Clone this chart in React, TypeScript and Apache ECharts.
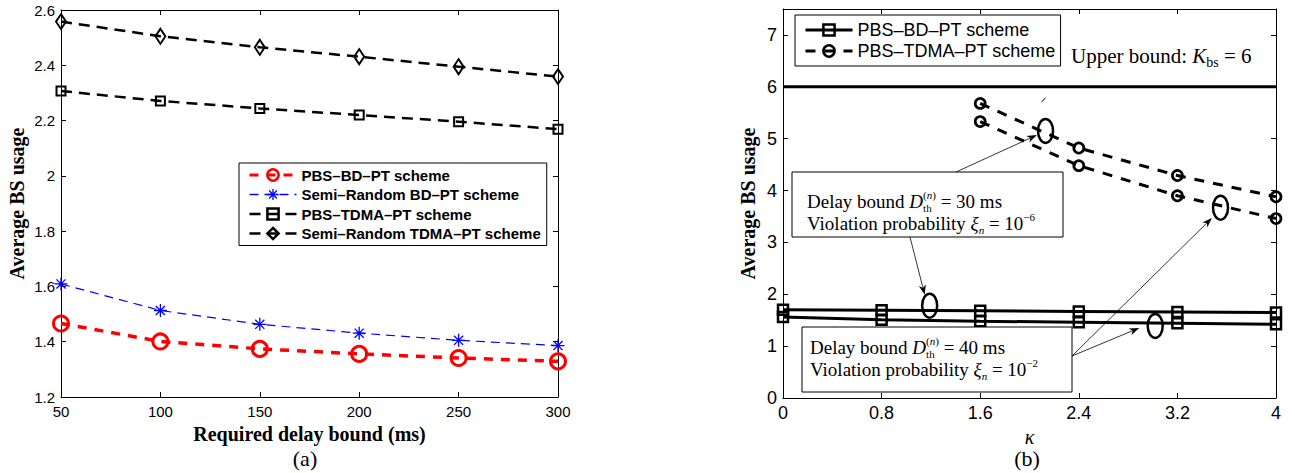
import React, { useEffect, useRef } from "react";
import * as echarts from "echarts";

// ---------- data: panel (a) ----------
const delayBound = [50, 100, 150, 200, 250, 300];
const pbsBdPt = [1.466, 1.401, 1.374, 1.356, 1.341, 1.329];
const semiBdPt = [1.609, 1.513, 1.463, 1.431, 1.405, 1.386];
const pbsTdmaPt = [2.307, 2.271, 2.244, 2.220, 2.196, 2.169];
const semiTdmaPt = [2.558, 2.505, 2.465, 2.431, 2.395, 2.359];

// ---------- data: panel (b) ----------
const kappa = [0, 0.8, 1.6, 2.4, 3.2, 4];
const bdPt30 = [1.70, 1.69, 1.68, 1.67, 1.66, 1.65];
const bdPt40 = [1.56, 1.51, 1.48, 1.46, 1.44, 1.42];
const tdmaPt30 = [null, null, 5.68, 4.82, 4.29, 3.88];
const tdmaPt40 = [null, null, 5.33, 4.48, 3.90, 3.46];
const upperBound = 6;

// annotation anchors (data coordinates of panel b)
const ellipseCenters = [
  [2.13, 5.15],
  [3.55, 3.67],
  [1.19, 1.78],
  [3.02, 1.39],
];
const arrowTips = [
  [2.06, 5.07],
  [1.15, 1.99],
  [2.89, 1.35],
  [3.48, 3.47],
];

const SANS = '"Liberation Sans", Arial, Helvetica, sans-serif';
const SERIF = '"Liberation Serif", "Times New Roman", serif';

// rich-text styles: M main size, S script size, LH line height, oSup/oSub centre offsets
function richStyles(M: number, S: number, LH: number, oSup: number, oSub: number) {
  const base = { fontFamily: SERIF, fill: "#000", color: "#000" };
  const hSup = LH + 2 * oSup;
  const hSub = LH - 2 * oSub;
  const r = { ...base, fontSize: M, lineHeight: LH, height: LH, verticalAlign: "middle" };
  const sp = { ...base, fontSize: S, lineHeight: LH, height: hSup, verticalAlign: "top" };
  const sb = { ...base, fontSize: S, lineHeight: LH, height: hSub, verticalAlign: "bottom" };
  return {
    r,
    i: { ...r, fontStyle: "italic" },
    sp,
    spi: { ...sp, fontStyle: "italic" },
    sb,
    sbi: { ...sb, fontStyle: "italic" },
    sb0: { ...sb, width: 0, align: "left" },
  };
}

function richText(
  x: number, y: number, text: string,
  M: number, S: number, LH: number, oSup: number, oSub: number, vAlign = "top"
) {
  return {
    type: "text",
    x,
    y,
    silent: true,
    z: 100,
    style: {
      text,
      rich: richStyles(M, S, LH, oSup, oSub),
      fontFamily: SERIF,
      fontSize: M,
      fill: "#000",
      align: "left",
      verticalAlign: vAlign,
      textAlign: "left",
      textVerticalAlign: vAlign,
    },
  };
}

function arrow(x1: number, y1: number, x2: number, y2: number) {
  const ang = Math.atan2(y2 - y1, x2 - x1);
  const L = 10, W = 3.6;
  const c = Math.cos(ang), s = Math.sin(ang);
  const bx = x2 - L * c, by = y2 - L * s;
  const ix = x2 - L * 0.7 * c, iy = y2 - L * 0.7 * s;
  const px = -s * W, py = c * W;
  return [
    { type: "line", silent: true, z: 100, shape: { x1, y1, x2: ix, y2: iy }, style: { stroke: "#000", lineWidth: 0.8 } },
    {
      type: "polygon", silent: true, z: 100,
      shape: { points: [[x2, y2], [bx + px, by + py], [ix, iy], [bx - px, by - py]] },
      style: { fill: "#000" },
    },
  ];
}

export default function App() {
  const ref = useRef<HTMLDivElement>(null);
  useEffect(() => {
    const chart = echarts.init(ref.current!, null, { renderer: "svg" });

    const axisCommon = {
      axisLine: { show: true, onZero: false, lineStyle: { color: "#000", width: 1 } },
      axisTick: { show: true, inside: true, length: 5, lineStyle: { color: "#000", width: 1 } },
      splitLine: { show: false },
    };
    const noLabel = { show: false };
    const transparent = "rgba(0,0,0,0)";

    const leftNames = [
      "L|PBS–BD–PT scheme",
      "L|Semi–Random BD–PT scheme",
      "L|PBS–TDMA–PT scheme",
      "L|Semi–Random TDMA–PT scheme",
    ];
    const rightNames = ["R|PBS–BD–PT scheme", "R|PBS–TDMA–PT scheme"];
    const asterisk = "path://M5,0L5,10M0,5L10,5M1.5,1.5L8.5,8.5M1.5,8.5L8.5,1.5";

    const option: any = {
      animation: false,
      backgroundColor: "#fff",
      grid: [
        { left: 61, top: 10, width: 497, height: 387 },
        { left: 783, top: 9, width: 493, height: 389 },
      ],
      legend: [
        {
          orient: "vertical", left: 239, top: 163,
          backgroundColor: "#fff", borderColor: "#000", borderWidth: 1,
          padding: [4, 6, 4, 9], itemWidth: 47, itemHeight: 14, itemGap: 3.5,
          selectedMode: false,
          textStyle: { fontFamily: SANS, fontSize: 15, fontWeight: "bold", color: "#000", lineHeight: 16 },
          formatter: (n: string) => n.slice(2),
          data: [
            { name: leftNames[0], itemStyle: { borderWidth: 2.5 }, lineStyle: { width: 3 } },
            { name: leftNames[1], itemStyle: { borderWidth: 1.3 }, lineStyle: { width: 1.3 } },
            { name: leftNames[2], itemStyle: { borderWidth: 2.5 }, lineStyle: { width: 2.5 } },
            { name: leftNames[3], itemStyle: { borderWidth: 2.5 }, lineStyle: { width: 2.5 } },
          ],
        },
        {
          orient: "vertical", left: 795, top: 15,
          backgroundColor: "#fff", borderColor: "#000", borderWidth: 1,
          padding: [6, 5, 6, 9], itemWidth: 47, itemHeight: 14, itemGap: 3,
          selectedMode: false,
          textStyle: { fontFamily: SANS, fontSize: 18, color: "#000", lineHeight: 18 },
          formatter: (n: string) => n.slice(2),
          data: [
            { name: rightNames[0], itemStyle: { borderWidth: 2.5 }, lineStyle: { width: 3 } },
            { name: rightNames[1], itemStyle: { borderWidth: 2.5 }, lineStyle: { width: 3 } },
          ],
        },
      ],
      xAxis: [
        {
          gridIndex: 0, type: "value", min: 50, max: 300, interval: 50, position: "bottom", ...axisCommon,
          axisLabel: { color: "#000", fontFamily: SANS, fontSize: 15, margin: 7 },
          name: "Required delay bound (ms)", nameLocation: "middle", nameGap: 21,
          nameTextStyle: { fontFamily: SERIF, fontWeight: "bold", fontSize: 20, color: "#000" },
        },
        { gridIndex: 0, type: "value", min: 50, max: 300, interval: 50, position: "top", ...axisCommon, axisLabel: noLabel },
        {
          gridIndex: 1, type: "value", min: 0, max: 4, interval: 0.8, position: "bottom", ...axisCommon,
          axisLabel: { color: "#000", fontFamily: SANS, fontSize: 18, margin: 6 },
          name: "κ", nameLocation: "middle", nameGap: 16,
          nameTextStyle: { fontFamily: SERIF, fontStyle: "italic", fontSize: 20, color: "#000" },
        },
        { gridIndex: 1, type: "value", min: 0, max: 4, interval: 0.8, position: "top", ...axisCommon, axisLabel: noLabel },
      ],
      yAxis: [
        {
          gridIndex: 0, type: "value", min: 1.2, max: 2.6, interval: 0.2, position: "left", ...axisCommon,
          axisLabel: { color: "#000", fontFamily: SANS, fontSize: 15, margin: 6 },
          name: "Average BS usage", nameLocation: "middle", nameGap: 34,
          nameTextStyle: { fontFamily: SERIF, fontWeight: "bold", fontSize: 20, color: "#000" },
        },
        { gridIndex: 0, type: "value", min: 1.2, max: 2.6, interval: 0.2, position: "right", ...axisCommon, axisLabel: noLabel },
        {
          gridIndex: 1, type: "value", min: 0, max: 7.5, interval: 1, position: "left", ...axisCommon,
          axisLabel: { color: "#000", fontFamily: SANS, fontSize: 18, margin: 6, showMaxLabel: false },
          name: "Average BS usage", nameLocation: "middle", nameGap: 25,
          nameTextStyle: { fontFamily: SERIF, fontWeight: "bold", fontSize: 20, color: "#000" },
        },
        {
          gridIndex: 1, type: "value", min: 0, max: 7.5, interval: 1, position: "right", ...axisCommon,
          axisLabel: noLabel,
        },
      ],
      series: [
        {
          name: leftNames[0], type: "line", xAxisIndex: 0, yAxisIndex: 0, silent: true,
          data: delayBound.map((x, i) => [x, pbsBdPt[i]]),
          symbol: "circle", symbolSize: 15,
          lineStyle: { color: "#ff0000", width: 3.5, type: [9, 8] },
          itemStyle: { color: transparent, borderColor: "#ff0000", borderWidth: 3 },
        },
        {
          name: leftNames[1], type: "line", xAxisIndex: 0, yAxisIndex: 0, silent: true,
          data: delayBound.map((x, i) => [x, semiBdPt[i]]),
          symbol: asterisk, symbolSize: 13,
          lineStyle: { color: "#0000ff", width: 1.2, type: [9, 6] },
          itemStyle: { color: transparent, borderColor: "#0000ff", borderWidth: 1.3 },
        },
        {
          name: leftNames[2], type: "line", xAxisIndex: 0, yAxisIndex: 0, silent: true,
          data: delayBound.map((x, i) => [x, pbsTdmaPt[i]]),
          symbol: "rect", symbolSize: 9,
          lineStyle: { color: "#000", width: 2.5, type: [11, 7] },
          itemStyle: { color: transparent, borderColor: "#000", borderWidth: 2 },
        },
        {
          name: leftNames[3], type: "line", xAxisIndex: 0, yAxisIndex: 0, silent: true,
          data: delayBound.map((x, i) => [x, semiTdmaPt[i]]),
          symbol: "diamond", symbolSize: [10, 15],
          lineStyle: { color: "#000", width: 2.5, type: [11, 7] },
          itemStyle: { color: transparent, borderColor: "#000", borderWidth: 2 },
        },
        {
          name: "Upper bound", type: "line", xAxisIndex: 2, yAxisIndex: 2, silent: true,
          data: [[kappa[0], upperBound], [kappa[kappa.length - 1], upperBound]],
          symbol: "none", lineStyle: { color: "#000", width: 3, type: "solid" },
        },
        {
          name: rightNames[0], type: "line", xAxisIndex: 2, yAxisIndex: 2, silent: true,
          data: kappa.map((x, i) => [x, bdPt30[i]]),
          symbol: "rect", symbolSize: 10,
          lineStyle: { color: "#000", width: 3, type: "solid" },
          itemStyle: { color: transparent, borderColor: "#000", borderWidth: 2.5 },
        },
        {
          name: "R2|PBS–BD–PT scheme (40 ms)", type: "line", xAxisIndex: 2, yAxisIndex: 2, silent: true,
          data: kappa.map((x, i) => [x, bdPt40[i]]),
          symbol: "rect", symbolSize: 10,
          lineStyle: { color: "#000", width: 3, type: "solid" },
          itemStyle: { color: transparent, borderColor: "#000", borderWidth: 2.5 },
        },
        {
          name: rightNames[1], type: "line", xAxisIndex: 2, yAxisIndex: 2, silent: true,
          data: kappa.map((x, i) => [x, tdmaPt30[i]]),
          symbol: "circle", symbolSize: 10,
          lineStyle: { color: "#000", width: 3, type: [10, 9] },
          itemStyle: { color: transparent, borderColor: "#000", borderWidth: 2.7 },
        },
        {
          name: "R2|PBS–TDMA–PT scheme (40 ms)", type: "line", xAxisIndex: 2, yAxisIndex: 2, silent: true,
          data: kappa.map((x, i) => [x, tdmaPt40[i]]),
          symbol: "circle", symbolSize: 10,
          lineStyle: { color: "#000", width: 3, type: [10, 9] },
          itemStyle: { color: transparent, borderColor: "#000", borderWidth: 2.7 },
        },
      ],
    };
    chart.setOption(option);

    const P = (v: number[]) => chart.convertToPixel({ gridIndex: 1 } as any, v) as number[];
    const els: any[] = [];

    // annotation boxes
    els.push({ type: "rect", silent: true, z: 99, shape: { x: 792, y: 172, width: 271, height: 65 }, style: { fill: "#fff", stroke: "#000", lineWidth: 1 } });
    els.push({ type: "rect", silent: true, z: 99, shape: { x: 802, y: 327, width: 270, height: 65 }, style: { fill: "#fff", stroke: "#000", lineWidth: 1 } });

    const boxText = (ms: string, e: string) =>
      `{r|Delay bound }{i|D}{sb0|th}{sp|(}{spi|n}{sp|)}{r| = ${ms} ms}\n` +
      `{r|Violation probability }{i|ξ}{sbi|n}{r| = 10}{sp|−${e}}`;
    els.push(richText(807, 190.5, boxText("30", "6"), 19, 11, 22, -7, 6.5));
    els.push(richText(810, 336.5, boxText("40", "2"), 19, 11, 22, -7, 6.5));
    els.push(richText(1071, 56, "{r|Upper bound: }{i|K}{sb|bs}{r| = 6}", 21, 14, 22, -8, 6.5, "middle"));

    // ellipses
    for (const c of ellipseCenters) {
      const p = P(c);
      els.push({ type: "ellipse", silent: true, z: 100, shape: { cx: p[0], cy: p[1], rx: 7.5, ry: 12 }, style: { fill: "none", stroke: "#000", lineWidth: 2.5 } });
    }
    // arrows (start points on the boxes)
    const starts = [[956, 172], [910, 237], [1072, 356], [1072, 356]];
    arrowTips.forEach((t, i) => {
      const p = P(t);
      els.push(...arrow(starts[i][0], starts[i][1], p[0], p[1]));
    });
    // small stray mark
    const m1 = P([2.10, 5.71]);
    const m2 = P([2.13, 5.79]);
    els.push({ type: "line", silent: true, z: 100, shape: { x1: m1[0], y1: m1[1], x2: m2[0], y2: m2[1] }, style: { stroke: "#000", lineWidth: 1 } });

    // panel captions
    els.push({ type: "text", silent: true, z: 100, x: 305, y: 458, style: { text: "(a)", fontSize: 22, fontFamily: SERIF, fill: "#000", align: "center", verticalAlign: "middle", textAlign: "center", textVerticalAlign: "middle" } });
    els.push({ type: "text", silent: true, z: 100, x: 1027, y: 458, style: { text: "(b)", fontSize: 22, fontFamily: SERIF, fill: "#000", align: "center", verticalAlign: "middle", textAlign: "center", textVerticalAlign: "middle" } });

    chart.setOption({ graphic: { elements: els } });

    return () => chart.dispose();
  }, []);

  return (
    <div
      ref={ref}
      style={{ position: "absolute", left: 0, top: 0, width: 1295, height: 473, background: "#fff" }}
    />
  );
}
